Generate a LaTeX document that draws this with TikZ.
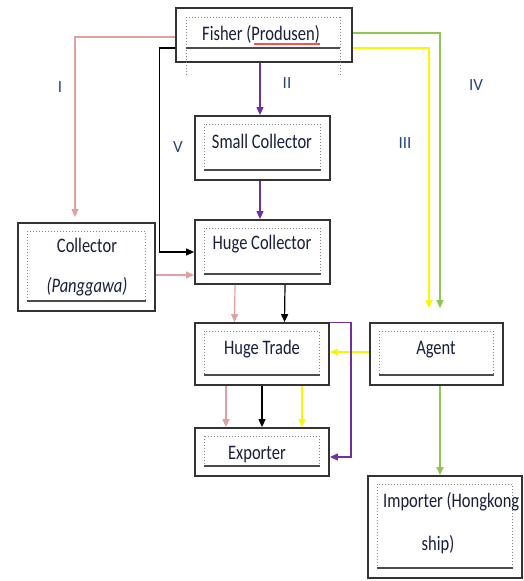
\documentclass[tikz,border=0pt]{standalone}
\usepackage{graphicx}
\usepackage{fontspec}
\setmainfont{Carlito}
\usetikzlibrary{arrows.meta,calc}
\definecolor{pinkc}{RGB}{224,160,160}
\definecolor{purpc}{RGB}{112,48,160}
\definecolor{yelc}{RGB}{250,245,0}
\definecolor{grnc}{RGB}{146,196,80}
\definecolor{txtc}{RGB}{25,30,60}
\definecolor{numc}{RGB}{35,70,130}
\newcommand\tx[1]{\scalebox{1}[1.25]{#1}}
\newcommand\innerdeco[1]{%
  \draw[gray,dotted,line width=1pt] ($(#1.north west)+(10,9)$) rectangle ($(#1.south east)+(-10,-10)$);
  \draw[gray!60!black,line width=1.6pt] ($(#1.south west)+(10,-11)$) -- ($(#1.south east)+(-10,-11)$);}
\begin{document}
\begin{tikzpicture}[x=1pt,y=-1pt,
  box/.style={draw=black!80,line width=1.8pt,fill=white},
  txt/.style={text=txtc,font=\fontsize{16.5}{19}\selectfont,inner sep=0pt},
  num/.style={text=numc,font=\fontsize{17}{19}\selectfont,inner sep=0pt},
  arr/.style={line width=1.2pt,-{Triangle[length=8pt,width=7pt]}}]
\useasboundingbox (0,0) rectangle (524,581);
% boxes
\node[box,minimum width=176pt,minimum height=54pt] (fisher) at (264,35) {};
\node[box,minimum width=135pt,minimum height=64pt] (smallcol) at (262.5,148) {};
\node[box,minimum width=135pt,minimum height=64pt] (hugecol) at (262.5,252) {};
\node[box,minimum width=137pt,minimum height=88pt] (collector) at (86.5,267) {};
\node[box,minimum width=134pt,minimum height=62pt] (hugetrade) at (262,354) {};
\node[box,minimum width=134pt,minimum height=48pt] (exporter) at (262,452) {};
\node[box,minimum width=133pt,minimum height=62pt] (agent) at (436.5,354) {};
\node[box,minimum width=154pt,minimum height=102pt] (importer) at (445,527) {};
% inner decorations
\draw[gray,dotted,line width=1pt] (186,17) -- (340,17) (186,17) -- (186,75) (340,17) -- (340,75);
\draw[gray!60!black,line width=1.6pt] (186,48) -- (340,48);
\innerdeco{smallcol}
\innerdeco{hugecol}
\innerdeco{collector}
\innerdeco{hugetrade}
\innerdeco{exporter}
\innerdeco{agent}
\innerdeco{importer}
% texts
\node[txt] (tfisher) at (261,34) {\tx{Fisher (Produsen)}};
\draw[red!70,line width=2.5pt] (254,44) -- (320,44);
\node[txt] (tsmall) at (262,141) {\tx{Small Collector}};
\node[txt] (thugecol) at (262,244) {\tx{Huge Collector}};
\node[txt] (tcol1) at (87,245) {\tx{Collector}};
\node[txt] (tcol2) at (87,287) {\tx{\itshape(Panggawa)}};
\node[txt] (thtrade) at (262,349) {\tx{Huge Trade}};
\node[txt] (texp) at (257,455) {\tx{Exporter}};
\node[txt] (tagent) at (436,350) {\tx{Agent}};
\node[txt,anchor=west] (timp1) at (383,502) {\tx{Importer (Hongkong}};
\node[txt] (timp2) at (438,545) {\tx{ship)}};
% labels
\node[num] (l1) at (60,87) {I};
\node[num] (l2) at (287,83) {II};
\node[num] (l3) at (405,143) {III};
\node[num] (l4) at (476,85) {IV};
\node[num] (l5) at (178,147) {V};
% connectors
\draw[arr,pinkc] ([yshift=-2pt]fisher.west) -| ([xshift=-11.5pt,yshift=5pt]collector.north);
\draw[arr,black] ([yshift=-13pt]fisher.west) -- ++(-16,0) |- (hugecol.west);
\draw[arr,purpc] (fisher.south -| 260,0) -- (smallcol.north -| 260,0);
\draw[arr,purpc] (smallcol.south -| 260,0) -- (hugecol.north -| 260,0);
\draw[arr,grnc] ([yshift=2pt]fisher.east) -| ([xshift=3.5pt,yshift=14pt]agent.north);
\draw[arr,yelc] ([yshift=-13pt]fisher.east) -| ([xshift=-7.5pt,yshift=14pt]agent.north);
\coordinate (cp) at ([yshift=-8pt]collector.east);
\draw[arr,pinkc] (cp) -- (cp -| hugecol.west);
\draw[arr,pinkc] ([xshift=-27.5pt]hugecol.south) -- ([xshift=-27.5pt]hugetrade.north);
\draw[arr,black] ([xshift=22.5pt]hugecol.south) -- ([xshift=22.5pt]hugetrade.north);
\draw[arr,pinkc] ([xshift=-36pt]hugetrade.south) -- ([xshift=-36pt]exporter.north);
\draw[arr,black] (hugetrade.south) -- (exporter.north);
\draw[arr,yelc] ([xshift=40pt]hugetrade.south) -- ([xshift=40pt]exporter.north);
\draw[arr,yelc] ([yshift=2pt]agent.west) -- ([yshift=2pt]hugetrade.east);
\draw[arr,purpc] (hugetrade.north east) -- ++(21,0) |- ([yshift=-5pt]exporter.east);
\coordinate (ag) at ([xshift=3.5pt]agent.south);
\draw[arr,grnc] (ag) -- (ag |- importer.north);
\end{tikzpicture}
\end{document}
